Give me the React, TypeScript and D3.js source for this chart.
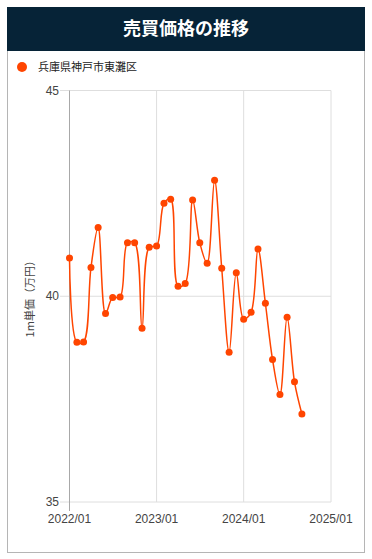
import { FC, useEffect, useRef } from "react"
import * as d3 from "d3"

const TITLE = "売買価格の推移"
const SERIES_NAME = "兵庫県神戸市東灘区"
const Y_LABEL = "1m単価（万円）"
// monthly, 2022/01 .. 2024/09
const months = [
  "2022-01", "2022-02", "2022-03", "2022-04", "2022-05", "2022-06", "2022-07", "2022-08", "2022-09", "2022-10", "2022-11", "2022-12",
  "2023-01", "2023-02", "2023-03", "2023-04", "2023-05", "2023-06", "2023-07", "2023-08", "2023-09", "2023-10", "2023-11", "2023-12",
  "2024-01", "2024-02", "2024-03", "2024-04", "2024-05", "2024-06", "2024-07", "2024-08", "2024-09",
]
const prices = [
  40.93, 38.88, 38.89, 40.70, 41.67, 39.58, 39.97, 39.98, 41.30, 41.30, 39.22, 41.19,
  41.22, 42.26, 42.36, 40.24, 40.31, 42.34, 41.30, 40.80, 42.82, 40.68, 38.64, 40.57,
  39.44, 39.61, 41.15, 39.83, 38.46, 37.61, 39.49, 37.92, 37.14,
]
const yTicks = [35, 40, 45]
const xTicks = ["2022-01", "2023-01", "2024-01", "2025-01"]

const W = 372
const H = 559

const App: FC = () => {
  const svgRef = useRef<SVGSVGElement>(null)

  useEffect(() => {
    const svg = d3.select(svgRef.current)
    svg.selectAll("*").remove()

    const parse = d3.timeParse("%Y-%m")
    const data = months.map((m, i) => ({ date: parse(m) as Date, price: prices[i] }))

    // card + title bar
    svg.append("rect")
      .attr("x", 7.5).attr("y", 7.5).attr("width", 357).attr("height", 545)
      .attr("fill", "#fff").attr("stroke", "#b5b5b5")
    svg.append("rect")
      .attr("x", 7).attr("y", 7).attr("width", 358).attr("height", 44)
      .attr("fill", "#062337")
    svg.append("text")
      .attr("x", 186).attr("y", 29).attr("dy", "0.36em")
      .attr("text-anchor", "middle")
      .attr("fill", "#fff").attr("font-size", 18).attr("font-weight", "bold")
      .attr("font-family", "'Noto Sans CJK JP', sans-serif")
      .text(TITLE)

    // legend
    svg.append("circle").attr("cx", 22).attr("cy", 67).attr("r", 5).attr("fill", "#ff4500")
    svg.append("text")
      .attr("x", 38).attr("y", 67).attr("dy", "0.36em")
      .attr("font-size", 11).attr("fill", "#222")
      .attr("font-family", "'Noto Sans CJK JP', sans-serif")
      .text(SERIES_NAME)

    // scales
    const x = d3.scaleTime()
      .domain([parse("2022-01") as Date, parse("2025-01") as Date])
      .range([69.5, 331])
    const y = d3.scaleLinear().domain([35, 45]).range([502, 90.5])

    const g = svg.append("g").attr("font-family", "Arial, 'Liberation Sans', sans-serif")

    // grid
    g.selectAll(".hgrid").data(yTicks).join("line")
      .attr("x1", 60).attr("x2", 331)
      .attr("y1", d => y(d)).attr("y2", d => y(d))
      .attr("stroke", "#dedede")
    g.selectAll(".vgrid").data(xTicks.slice(1)).join("line")
      .attr("x1", d => x(parse(d) as Date)).attr("x2", d => x(parse(d) as Date))
      .attr("y1", y(45)).attr("y2", y(35))
      .attr("stroke", "#dedede")
    // left axis line
    g.append("line")
      .attr("x1", x(parse("2022-01") as Date)).attr("x2", x(parse("2022-01") as Date))
      .attr("y1", y(45)).attr("y2", 511)
      .attr("stroke", "#a8a8a8")

    // y tick labels
    g.selectAll(".ylab").data(yTicks).join("text")
      .attr("x", 59).attr("y", d => y(d)).attr("dy", "0.35em")
      .attr("text-anchor", "end").attr("font-size", 12).attr("fill", "#444")
      .text(d => d)
    // x tick labels
    g.selectAll(".xlab").data(xTicks).join("text")
      .attr("x", d => x(parse(d) as Date)).attr("y", 519).attr("dy", "0.35em")
      .attr("text-anchor", "middle").attr("font-size", 12).attr("fill", "#444")
      .text(d => d.replace("-", "/"))

    // y axis title
    svg.append("text")
      .attr("transform", `translate(30,${y(40)}) rotate(-90)`)
      .attr("dy", "0.36em")
      .attr("text-anchor", "middle").attr("font-size", 11).attr("fill", "#444")
      .attr("font-family", "'Noto Sans CJK JP', sans-serif")
      .text(Y_LABEL)

    // line + points
    const line = d3.line<{ date: Date, price: number }>()
      .x(d => x(d.date))
      .y(d => y(d.price))
      .curve(d3.curveCatmullRom.alpha(0.5))
    g.append("path")
      .datum(data)
      .attr("d", line)
      .attr("fill", "none")
      .attr("stroke", "#ff4500")
      .attr("stroke-width", 1.5)
    g.selectAll(".pt").data(data).join("circle")
      .attr("cx", d => x(d.date)).attr("cy", d => y(d.price))
      .attr("r", 3.5).attr("fill", "#ff4500")
  }, [])

  return (
    <div style={{ position: "absolute", left: 0, top: 0 }}>
      <svg ref={svgRef} width={W} height={H} style={{ display: "block" }}></svg>
    </div>
  )
}

export default App
